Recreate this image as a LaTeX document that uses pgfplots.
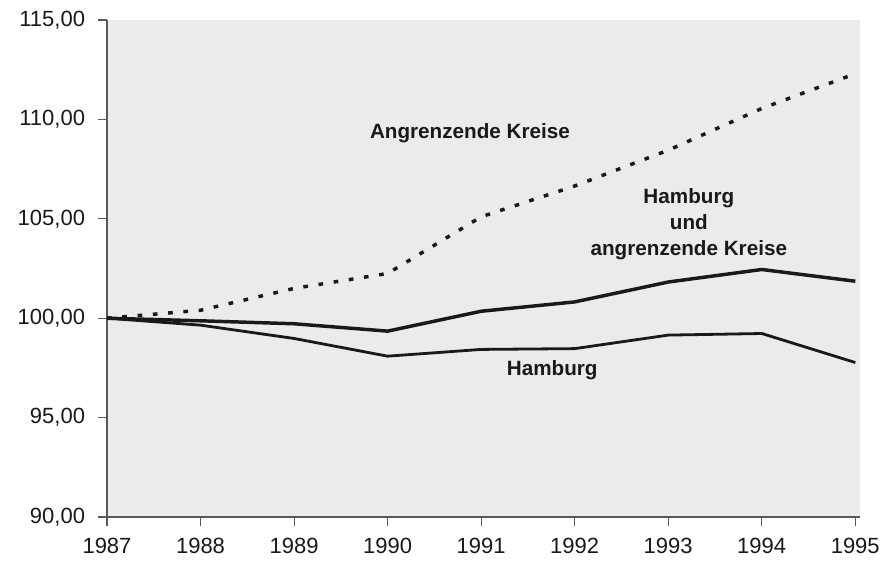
\documentclass[border=0pt]{standalone}
\usepackage{pgfplots}
\pgfplotsset{compat=1.18}
\usepackage{fontspec}
\setmainfont{Liberation Sans}
\begin{document}
\begin{tikzpicture}
\begin{axis}[
  scale only axis,
  width=564.75pt, height=372.75pt,
  xmin=1987, xmax=1995.05,
  ymin=90, ymax=115,
  xtick={1987,...,1995},
  ytick={90,95,...,115},
  axis lines*=left,
  axis line style={draw=black!65, line width=0.8pt},
  axis background/.style={fill=black!8},
  tick align=outside,
  major tick length=7pt,
  tick style={draw=black!65, line width=0.8pt},
  /pgf/number format/assume math mode=true,
  ticklabel style={font=\fontsize{16.5}{19}\selectfont, text=black!90},
  xticklabel style={/pgf/number format/1000 sep={}, yshift=-5pt},
  yticklabel style={/pgf/number format/fixed, /pgf/number format/fixed zerofill, /pgf/number format/precision=2, /pgf/number format/use comma, /pgf/number format/1000 sep={}, xshift=-6pt},
  clip=false,
]
\addplot[black!90, line width=2.6pt, dash pattern=on 3.5pt off 8pt] coordinates {
  (1987,100.00) (1988,100.40) (1989,101.50) (1990,102.25) (1991,105.10)
  (1992,106.65) (1993,108.45) (1994,110.55) (1995,112.30)};
\addplot[black!90, line width=2.6pt] coordinates {
  (1987,100.00) (1988,99.87) (1989,99.72) (1990,99.35) (1991,100.35)
  (1992,100.82) (1993,101.82) (1994,102.45) (1995,101.86)};
\addplot[black!90, line width=2.1pt] coordinates {
  (1987,100.00) (1988,99.65) (1989,98.98) (1990,98.09) (1991,98.43)
  (1992,98.47) (1993,99.15) (1994,99.23) (1995,97.77)};
\node[font=\bfseries\fontsize{15.5}{18}\selectfont, text=black!90] at (axis cs:1990.88,109.3) {Angrenzende Kreise};
\node[font=\bfseries\fontsize{15.5}{19.5}\selectfont, text=black!90, align=center] at (axis cs:1993.22,104.75) {Hamburg\\und\\angrenzende Kreise};
\node[font=\bfseries\fontsize{15.5}{18}\selectfont, text=black!90] at (axis cs:1991.76,97.39) {Hamburg};
\end{axis}
\pgfresetboundingbox
\path[use as bounding box] ([xshift=-80.25pt,yshift=-36pt]current axis.south west) rectangle ([xshift=15pt,yshift=15pt]current axis.north east);
\end{tikzpicture}
\end{document}
